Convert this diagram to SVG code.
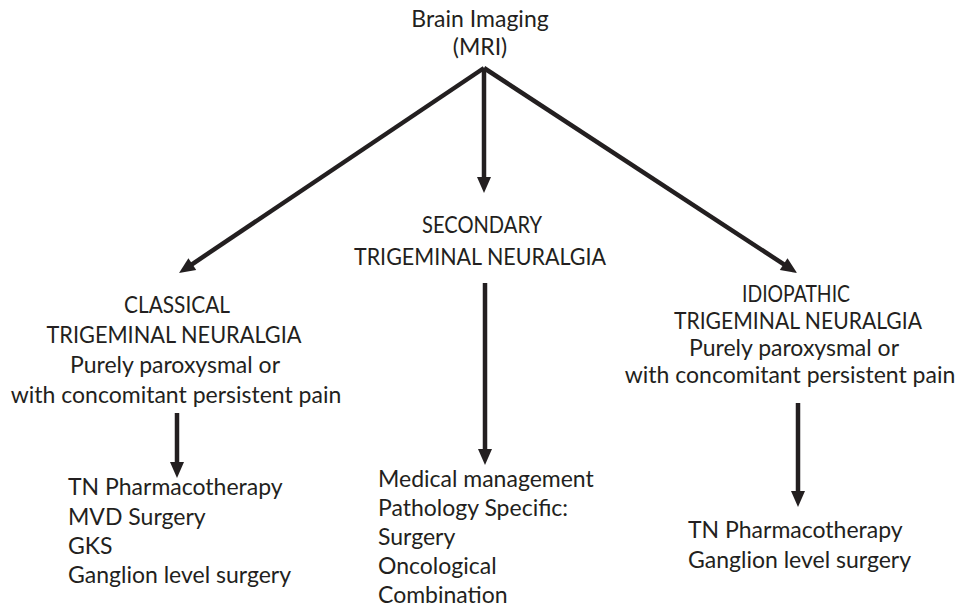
<svg xmlns="http://www.w3.org/2000/svg" width="961" height="614" viewBox="0 0 961 614">
<style>
text{font-family:Lato,"Open Sans","Liberation Sans",sans-serif;font-size:23px;fill:#231f20}
.c{text-anchor:middle}
.conn line{stroke:#231f20;stroke-width:4.5;marker-end:url(#ah)}
</style>
<defs>
<marker id="ah" markerUnits="userSpaceOnUse" markerWidth="16" markerHeight="14" refX="4" refY="7" orient="auto" overflow="visible">
<path d="M0,0 L16,7 L0,14 z" fill="#231f20"/>
</marker>
</defs>
<rect width="961" height="614" fill="#fff"/>
<g id="brain-imaging">
<text class="c" x="480" y="27">Brain Imaging</text>
<text class="c" x="480" y="55">(MRI)</text>
</g>
<g id="classical">
<text class="c" x="177" y="313" textLength="106" lengthAdjust="spacingAndGlyphs">CLASSICAL</text>
<text class="c" x="174" y="343" textLength="255" lengthAdjust="spacingAndGlyphs">TRIGEMINAL NEURALGIA</text>
<text class="c" x="175" y="373">Purely paroxysmal or</text>
<text class="c" x="176" y="403">with concomitant persistent pain</text>
</g>
<g id="secondary">
<text class="c" x="482" y="233" textLength="120" lengthAdjust="spacingAndGlyphs">SECONDARY</text>
<text class="c" x="480" y="265" textLength="252" lengthAdjust="spacingAndGlyphs">TRIGEMINAL NEURALGIA</text>
</g>
<g id="idiopathic">
<text class="c" x="796" y="302" textLength="108" lengthAdjust="spacingAndGlyphs">IDIOPATHIC</text>
<text class="c" x="798" y="329" textLength="248" lengthAdjust="spacingAndGlyphs">TRIGEMINAL NEURALGIA</text>
<text class="c" x="794" y="356">Purely paroxysmal or</text>
<text class="c" x="790" y="383">with concomitant persistent pain</text>
</g>
<g id="classical-treatment">
<text x="68" y="495">TN Pharmacotherapy</text>
<text x="68" y="525">MVD Surgery</text>
<text x="68" y="554">GKS</text>
<text x="68" y="583">Ganglion level surgery</text>
</g>
<g id="secondary-treatment">
<text x="378" y="487">Medical management</text>
<text x="378" y="516">Pathology Specific:</text>
<text x="378" y="545">Surgery</text>
<text x="378" y="574">Oncological</text>
<text x="378" y="603">Combination</text>
</g>
<g id="idiopathic-treatment">
<text x="688" y="538">TN Pharmacotherapy</text>
<text x="688" y="568">Ganglion level surgery</text>
</g>
<g id="connectors" class="conn">
<line x1="484" y1="68" x2="189" y2="266.3"/>
<line x1="484" y1="68" x2="484" y2="181"/>
<line x1="484" y1="68" x2="787" y2="266.4"/>
<line x1="177" y1="413" x2="177" y2="466"/>
<line x1="485" y1="283" x2="485" y2="453"/>
<line x1="798" y1="403" x2="798" y2="495"/>
</g>
</svg>
